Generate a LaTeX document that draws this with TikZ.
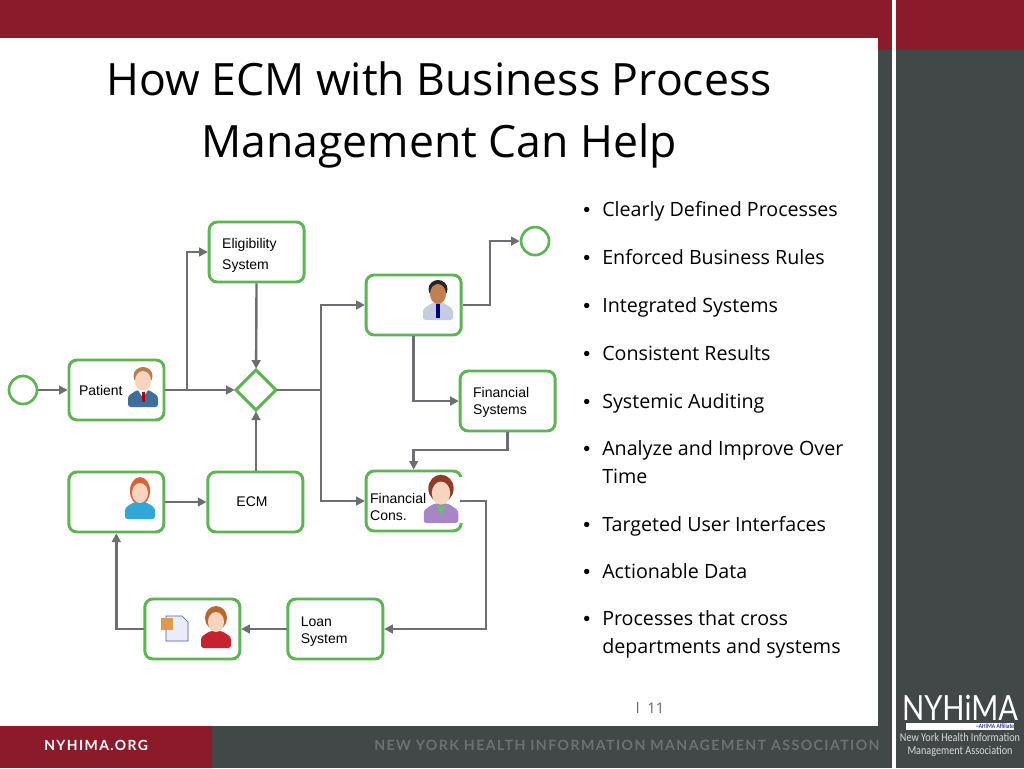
\documentclass[tikz,border=0pt]{standalone}
\usepackage{xcolor}
\usepackage{fontspec}
\usepackage{tikz}
\usetikzlibrary{shapes.geometric,arrows.meta,positioning}
\setmainfont{Open Sans}
\newfontfamily\arialfont{Liberation Sans}
\newfontfamily\footfont[LetterSpace=10]{Lato}
\newfontfamily\logofont[FakeStretch=0.84]{Lato}
\newfontfamily\logosub[FakeStretch=0.85]{Carlito}
\definecolor{slidered}{RGB}{139,26,43}
\definecolor{slidegrey}{RGB}{66,72,72}
\definecolor{boxgreen}{RGB}{92,181,82}
\definecolor{arrowgrey}{RGB}{110,110,114}
\definecolor{footgrey}{RGB}{108,114,114}
\definecolor{skinlight}{RGB}{246,212,190}
\definecolor{skindark}{RGB}{194,128,80}
\definecolor{patientblue}{RGB}{63,110,156}
\definecolor{patienthair}{RGB}{185,125,70}
\definecolor{coatgrey}{RGB}{196,204,222}
\definecolor{topcyan}{RGB}{47,168,216}
\definecolor{hairorange}{RGB}{217,98,58}
\definecolor{coatpurple}{RGB}{166,134,196}
\definecolor{hairbrown}{RGB}{142,59,40}
\definecolor{coatred}{RGB}{198,35,48}
\definecolor{hairtan}{RGB}{185,105,47}
\newcommand{\bulletmark}{\llap{{\arialfont\textbullet}\hspace{9pt}}}
\newcommand{\textdrop}[1]{\rule{0pt}{#1}}
% head and shoulders, #1,#2 = head centre
\newcommand{\personicon}[5]{%
\begin{scope}[shift={(#1,#2)}]
\fill[#3, rounded corners=2pt] (-15,28) -- (-15,17) -- (-6,11) -- (6,11) -- (15,17) -- (15,28) -- cycle;
\fill[#4] (0,-3) ellipse (9.5 and 9);
\fill[#5] (0,2) ellipse (8 and 10);
\end{scope}}
\begin{document}
\begin{tikzpicture}[x=0.75pt, y=-0.75pt,
 box/.style={draw=boxgreen, line width=2.2pt, rounded corners=6pt, fill=white, outer sep=0pt, align=left, minimum height=45pt, font=\arialfont\fontsize{10.5}{12.75}\selectfont, inner xsep=#1, text width=71.25pt-2*#1},
 box/.default=9.75pt,
 event/.style={circle, draw=boxgreen, line width=2pt, fill=white, minimum size=21pt, inner sep=0pt, outer sep=0pt},
 gate/.style={diamond, draw=boxgreen, line width=2.2pt, fill=white, minimum width=30pt, minimum height=30pt, inner sep=0pt, outer sep=0pt},
 arr/.style={-{Triangle[length=6.5pt,width=6.5pt]}, line width=1.8pt, draw=arrowgrey, shorten >=1pt, shorten <=1pt},
 bulletitem/.style={anchor=base west, align=left, inner sep=0pt, text=black, font=\fontsize{14.75}{20.6}\selectfont},
 footlabel/.style={inner sep=0pt, anchor=base west, font=\footfont\bfseries\fontsize{10.5}{12}\selectfont}]
\useasboundingbox (0,0) rectangle (1024,768);
% slide frame
\fill[white] (0,0) rectangle (1024,768);
\fill[slidered] (0,0) rectangle (892,38);
\fill[slidered] (878,38) rectangle (892,50);
\fill[slidered] (896,0) rectangle (1024,50);
\fill[slidegrey] (878,50) rectangle (892,726);
\fill[slidegrey] (896,50) rectangle (1024,768);
\fill[slidered] (0,726) rectangle (212,768);
\fill[slidegrey] (212,726) rectangle (892,768);
\node[align=center, inner sep=0pt, font=\fontsize{33.4}{46.5}\selectfont] (title) at (439,115) {How ECM with Business Process\\Management Can Help};
% process nodes
\node[box=7.5pt] (patient) at (116.5,390) {Patient};
\node[event, left=24pt of patient] (startev) {};
\node[gate, right=54pt of patient] (gateway) {};
\node[box, above=66pt of gateway, xshift=0.5pt] (elig) {\textdrop{12pt}Eligibility\\[3pt]System};
\node[box, below=46.5pt of gateway, xshift=-0.5pt] (ecm) {};
\node (ecmlabel) [font=\arialfont\fontsize{10.5}{12.75}\selectfont, inner sep=0pt] at (252,502) {ECM};
\node[box, left=33pt of ecm] (reception) {};
\node[box, below right=-5.25pt and 46.5pt of elig] (doctor) {};
\node[event, above right=18pt and 48pt of doctor] (endev) {};
\node[box, below right=27pt and -0.75pt of doctor] (finsys) {\textdrop{9pt}Financial\\Systems};
\node[box=3pt, below=102pt of doctor] (fincons) {\textdrop{16.5pt}Financial\\Cons.};
\node[box, below right=50.25pt and -14.25pt of reception] (clerk) {};
\node[box, right=36pt of clerk] (loan) {\textdrop{10.5pt}Loan\\System};
\coordinate (patientsplit) at (187,390);
\coordinate (gatesplit) at (321,390);
\coordinate (doctorbend) at (490,304.5);
\coordinate (finsysbend) at (507.5,450);
\coordinate (finconsbend) at (486,500);
% icons
\fill[white] (456,477) rectangle (463,523);
\personicon{143}{379}{patientblue}{patienthair}{skinlight}
\fill[white] (138,390) -- (148,390) -- (143,398) -- cycle;
\fill[red!70!black] (141.5,392) rectangle (144.5,402);
\personicon{438}{292}{coatgrey}{black!85}{skindark}
\fill[blue!50!black] (436,304) rectangle (440,318);
\fill[hairorange] (140,491) ellipse (10 and 14);
\personicon{140}{491}{topcyan}{hairorange}{skinlight}
\begin{scope}[shift={(441,500)}, scale=1.15, shift={(-441,-500)}]
\fill[hairbrown] (441,490) ellipse (11 and 12);
\personicon{441}{492}{coatpurple}{hairbrown}{skinlight}
\fill[green!60!black!60] (437,505) -- (445,505) -- (441,513) -- cycle;
\end{scope}
\fill[hairtan] (216,618) ellipse (11 and 12);
\personicon{216}{620}{coatred}{hairtan}{skinlight}
\fill[blue!8!white, draw=blue!35!gray, line width=0.5pt] (166,616) -- (182,616) -- (188,622) -- (188,641) -- (166,641) -- cycle;
\fill[orange!40!brown!80!white] (161,618) rectangle (173,630);
% connectors
\draw[arr] (startev) -- (patient);
\draw[arr] (patient) -- (gateway);
\draw[arr] (patientsplit) |- (elig);
\draw[arr] (elig) -- (gateway);
\draw[arr] (ecm.north -| gateway) -- (gateway);
\draw[arr] (gateway) -- (gatesplit) |- (doctor);
\draw[arr] (gatesplit) |- (fincons);
\draw[arr] (doctor) -| (doctorbend) |- (endev);
\draw[arr] (doctor.south) |- (finsys);
\draw[arr] (finsys.south) |- (finsysbend) -| (fincons.north);
\draw[arr, shorten <=-1pt] (fincons) -| (finconsbend) |- (loan);
\draw[arr] (loan) -- (clerk);
\draw[arr] (clerk) -| (reception);
\draw[arr] (reception) -- (ecm);
% bullet list
\node[bulletitem] (b1) at (602,216) {\bulletmark Clearly Defined Processes};
\node[bulletitem] (b2) at (602,264) {\bulletmark Enforced Business Rules};
\node[bulletitem] (b3) at (602,312) {\bulletmark Integrated Systems};
\node[bulletitem] (b4) at (602,360) {\bulletmark Consistent Results};
\node[bulletitem] (b5) at (602,408) {\bulletmark Systemic Auditing};
\node[bulletitem] (b6) at (602,483) {\bulletmark Analyze and Improve Over\\Time};
\node[bulletitem] (b7) at (602,531) {\bulletmark Targeted User Interfaces};
\node[bulletitem] (b8) at (602,578) {\bulletmark Actionable Data};
\node[bulletitem] (b9) at (602,653) {\bulletmark Processes that cross\\departments and systems};
\node[inner sep=0pt, text=black!60, font=\fontsize{11}{12}\selectfont] (pagenum) at (650,708) {l\hspace{6pt}11};
% footer and logo
\node[footlabel, text=white] (footleft) at (44,750) {NYHIMA.ORG};
\node[footlabel, text=footgrey, font=\footfont\bfseries\fontsize{10.63}{12}\selectfont] (footright) at (374,750) {NEW YORK HEALTH INFORMATION MANAGEMENT ASSOCIATION};
\node[inner sep=0pt, text=white, font=\logofont\fontsize{26}{26}\selectfont] (logo) at (960,708) {NYHiMA};
\node[fill=white, anchor=north west, minimum width=81pt, minimum height=4.7pt, inner sep=0pt] (logobar) at (906,723) {};
\node[anchor=east, inner sep=0pt, text=blue!50!black, font=\logosub\fontsize{5}{5}\selectfont] (logotag) at (logobar.east) {\textasciitilde AHIMA Affiliate};
\node[align=center, inner sep=0pt, text=white!85!black, font=\logosub\fontsize{9}{9.75}\selectfont] (logosubline) at (960,744.5) {New York Health Information\\Management Association};
\end{tikzpicture}
\end{document}
